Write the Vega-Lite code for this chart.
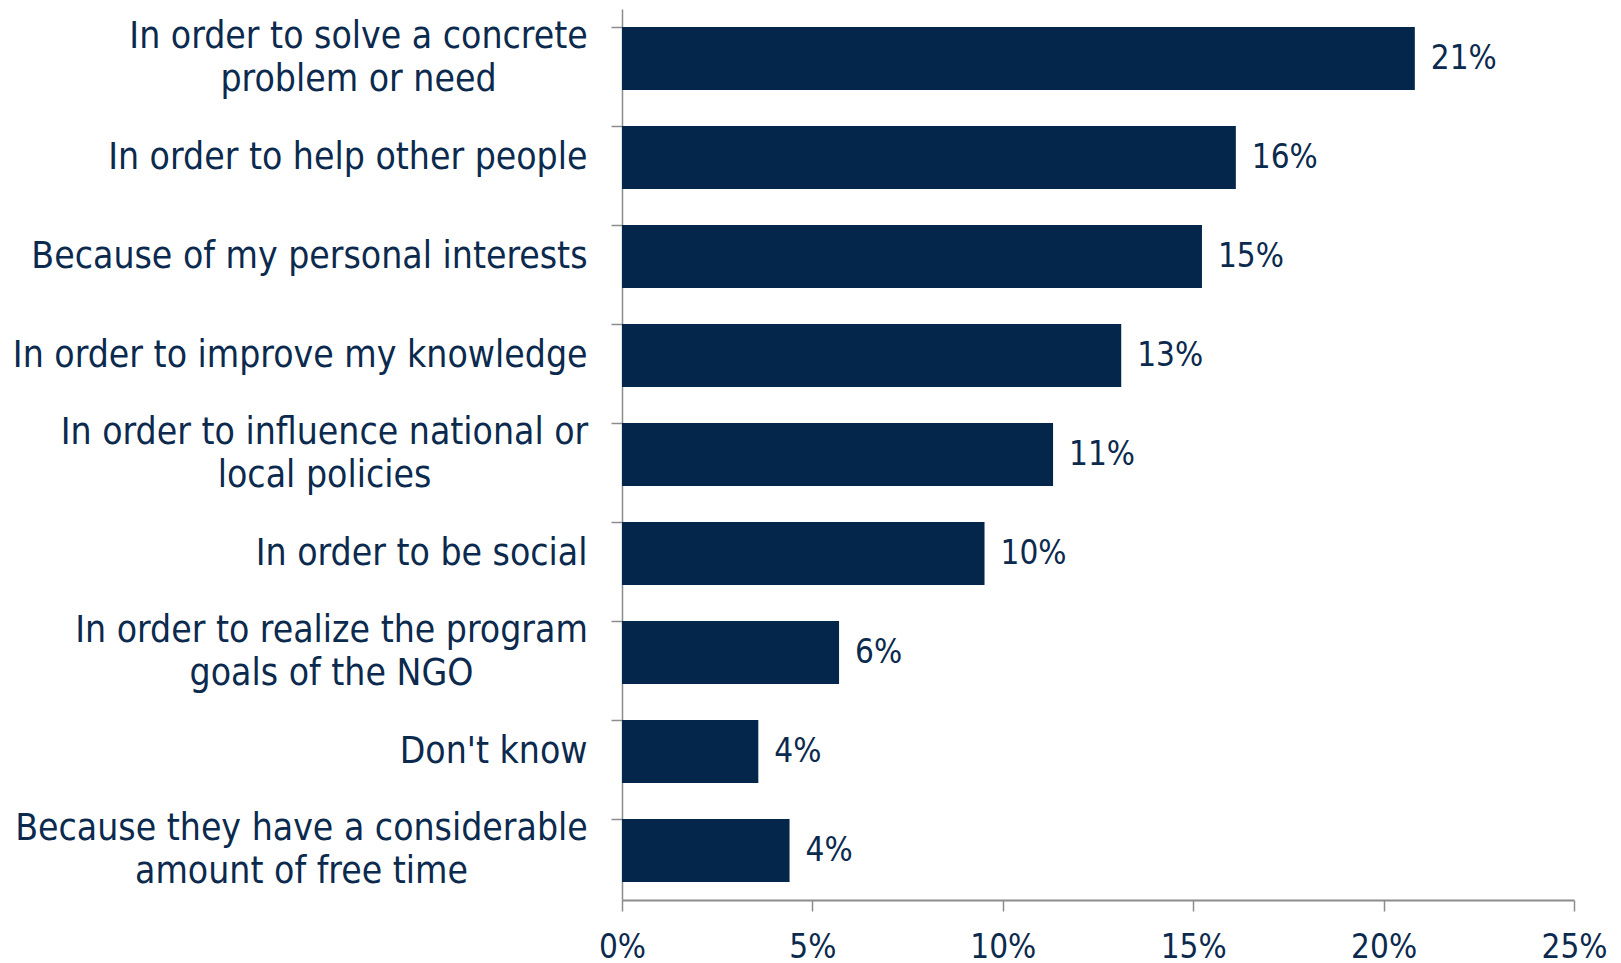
{
  "$schema": "https://vega.github.io/schema/vega-lite/v6.json",
  "autosize": {"type": "none"},
  "padding": {"left": 622, "top": 9, "right": 47, "bottom": 63},
  "width": 952,
  "height": 891,
  "background": "white",
  "data": {
    "values": [
      {"reason": "In order to solve a concrete|problem or need", "share": 0.2082},
      {"reason": "In order to help other people", "share": 0.1612},
      {"reason": "Because of my personal interests", "share": 0.1523},
      {"reason": "In order to improve my knowledge", "share": 0.1311},
      {"reason": "In order to influence national or|local policies", "share": 0.1132},
      {"reason": "In order to be social", "share": 0.0952},
      {"reason": "In order to realize the program|goals of the NGO", "share": 0.057},
      {"reason": "Don't know", "share": 0.0358},
      {"reason": "Because they have a considerable|amount of free time", "share": 0.044}
    ]
  },
  "config": {
    "view": {"stroke": null},
    "font": "DejaVu Sans Condensed"
  },
  "encoding": {
    "y": {
      "field": "reason",
      "type": "nominal",
      "sort": null,
      "scale": {"paddingInner": 0.364, "paddingOuter": 0.182},
      "axis": {
        "title": null,
        "labelExpr": "split(datum.label, '|')",
        "labelFont": "DejaVu Sans Condensed",
        "labelFontSize": 37,
        "labelColor": "#0b2a4e",
        "labelLineHeight": 43,
        "labelPadding": {"expr": "indexof(datum.value,'concrete')>=0 ? 253 : indexof(datum.value,'influence')>=0 ? 287 : indexof(datum.value,'realize')>=0 ? 280 : indexof(datum.value,'considerable')>=0 ? 310 : 24"},
        "labelLimit": 700,
        "labelAlign": {"expr": "indexof(datum.value,'|')>=0 ? 'center' : 'right'"},
        "labelOffset": {"expr": "indexof(datum.value, '|') >= 0 ? -21.5 : 0"},
        "bandPosition": 0,
        "tickSize": 11,
        "tickColor": "#8c8c8c",
        "tickWidth": 1.5,
        "domainColor": "#8c8c8c",
        "domainWidth": 1.5,
        "grid": false
      }
    },
    "x": {
      "field": "share",
      "type": "quantitative",
      "scale": {"domain": [0, 0.25], "nice": false},
      "axis": {
        "title": null,
        "format": ".0%",
        "values": [0, 0.05, 0.1, 0.15, 0.2, 0.25],
        "labelFont": "DejaVu Sans Condensed",
        "labelFontSize": 33,
        "labelColor": "#0b2a4e",
        "labelPadding": 20,
        "labelFlush": false,
        "tickSize": 11,
        "tickColor": "#8c8c8c",
        "tickWidth": 1.5,
        "domainColor": "#8c8c8c",
        "domainWidth": 2,
        "grid": false
      }
    }
  },
  "layer": [
    {"mark": {"type": "bar", "color": "#03264a"}},
    {
      "mark": {"type": "text", "align": "left", "baseline": "middle", "dx": 16, "fontSize": 33, "color": "#0b2a4e", "font": "DejaVu Sans Condensed"},
      "encoding": {"text": {"field": "share", "type": "quantitative", "format": ".0%"}}
    }
  ]
}
